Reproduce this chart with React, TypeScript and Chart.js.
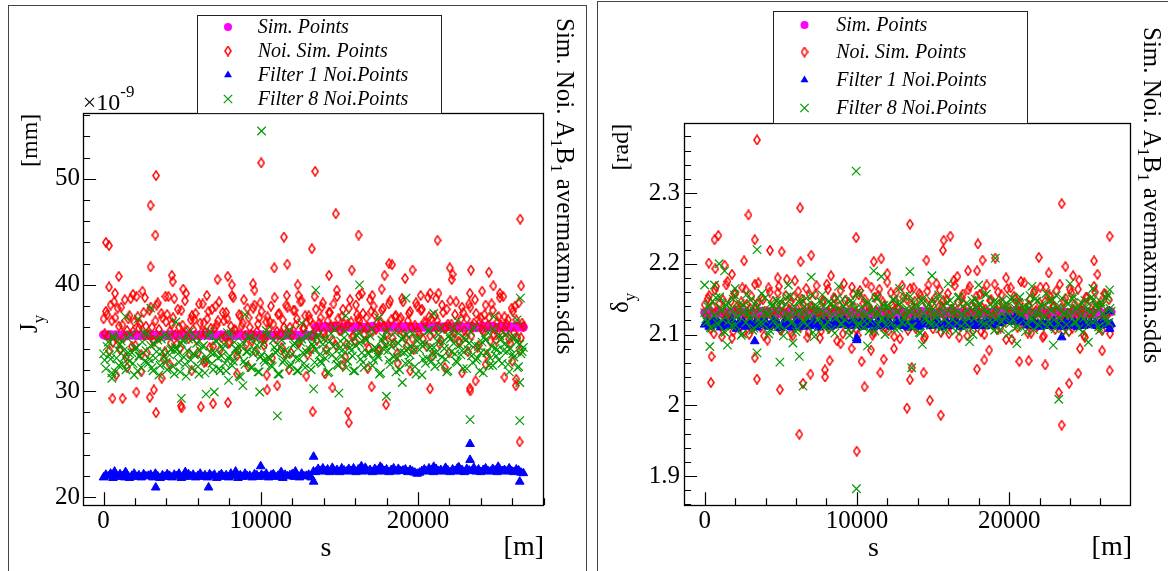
import React, { useEffect, useRef } from "react";
import { Chart, registerables } from "chart.js";
Chart.register(...registerables);

const FONT = '"Liberation Serif", serif';
const C_SIM = "#ff00ff";
const C_NOI = "#ff0000";
const C_F1 = "#0000ff";
const C_F8 = "#009a00";

const LEGEND_LABELS = ["Sim. Points", "Noi. Sim. Points", "Filter 1 Noi.Points", "Filter 8 Noi.Points"];
const TITLE_PARTS = [
  { t: "Sim. Noi. A", sub: false },
  { t: "1", sub: true },
  { t: "B", sub: false },
  { t: "1", sub: true },
  { t: " avermaxmin.sdds", sub: false },
];

const X_TICKS = [0, 2000, 4000, 6000, 8000, 10000, 12000, 14000, 16000, 18000, 20000, 22000, 24000, 26000, 28000];
const X_MAJOR = [0, 10000, 20000];
const JY_TICKS = [20, 22, 24, 26, 28, 30, 32, 34, 36, 38, 40, 42, 44, 46, 48, 50, 52, 54, 56];
const JY_MAJOR = [20, 30, 40, 50];
const DY_TICKS = [1.86, 1.88, 1.9, 1.92, 1.94, 1.96, 1.98, 2, 2.02, 2.04, 2.06, 2.08, 2.1, 2.12, 2.14, 2.16, 2.18, 2.2, 2.22, 2.24, 2.26, 2.28, 2.3, 2.32, 2.34, 2.36, 2.38];
const DY_MAJOR = [1.9, 2, 2.1, 2.2, 2.3];

// s positions [m]
const S_FINE = [
  0,150,300,450,600,750,900,1050,1200,1350,
  1500,1650,1800,1950,2100,2250,2400,2550,2700,2850,
  3000,3150,3300,3450,3600,3750,3900,4050,4200,4350,
  4500,4650,4800,4950,5100,5250,5400,5550,5700,5850,
  6000,6150,6300,6450,6600,6750,6900,7050,7200,7350,
  7500,7650,7800,7950,8100,8250,8400,8550,8700,8850,
  9000,9150,9300,9450,9600,9750,9900,10050,10200,10350,
  10500,10650,10800,10950,11100,11250,11400,11550,11700,11850,
  12000,12150,12300,12450,12600,12750,12900,13050,13200,13350,
  13500,13650,13800,13950,14100,14250,14400,14550,14700,14850,
  15000,15150,15300,15450,15600,15750,15900,16050,16200,16350,
  16500,16650,16800,16950,17100,17250,17400,17550,17700,17850,
  18000,18150,18300,18450,18600,18750,18900,19050,19200,19350,
  19500,19650,19800,19950,20100,20250,20400,20550,20700,20850,
  21000,21150,21300,21450,21600,21750,21900,22050,22200,22350,
  22500,22650,22800,22950,23100,23250,23400,23550,23700,23850,
  24000,24150,24300,24450,24600,24750,24900,25050,25200,25350,
  25500,25650,25800,25950,26100,26250,26400,26550,26700,
];
const S_FINE_B = [
  75,225,375,525,675,825,975,1125,1275,1425,
  1575,1725,1875,2025,2175,2325,2475,2625,2775,2925,
  3075,3225,3375,3525,3675,3825,3975,4125,4275,4425,
  4575,4725,4875,5025,5175,5325,5475,5625,5775,5925,
  6075,6225,6375,6525,6675,6825,6975,7125,7275,7425,
  7575,7725,7875,8025,8175,8325,8475,8625,8775,8925,
  9075,9225,9375,9525,9675,9825,9975,10125,10275,10425,
  10575,10725,10875,11025,11175,11325,11475,11625,11775,11925,
  12075,12225,12375,12525,12675,12825,12975,13125,13275,13425,
  13575,13725,13875,14025,14175,14325,14475,14625,14775,14925,
  15075,15225,15375,15525,15675,15825,15975,16125,16275,16425,
  16575,16725,16875,17025,17175,17325,17475,17625,17775,17925,
  18075,18225,18375,18525,18675,18825,18975,19125,19275,19425,
  19575,19725,19875,20025,20175,20325,20475,20625,20775,20925,
  21075,21225,21375,21525,21675,21825,21975,22125,22275,22425,
  22575,22725,22875,23025,23175,23325,23475,23625,23775,23925,
  24075,24225,24375,24525,24675,24825,24975,25125,25275,25425,
  25575,25725,25875,26025,26175,26325,26475,26625,
];

// ---------- J_y panel (x1e-9 mm) ----------
const JY_SIM = [
  35.30,35.20,35.25,35.30,35.20,35.30,35.25,35.20,35.30,35.25,
  35.20,35.30,35.25,35.30,35.20,35.25,35.30,35.20,35.25,35.30,
  35.20,35.25,35.30,35.25,35.20,35.30,35.25,35.20,35.30,35.25,
  35.30,35.20,35.25,35.30,35.20,35.25,35.30,35.25,35.20,35.30,
  35.25,35.20,35.30,35.25,35.30,35.20,35.25,35.30,35.20,35.25,
  35.30,35.25,35.20,35.30,35.25,35.20,35.30,35.25,35.30,35.20,
  35.25,35.30,35.20,35.25,35.30,35.20,35.25,35.30,35.25,35.20,
  35.30,35.25,35.20,35.30,35.25,35.30,35.20,35.25,35.30,35.25,
  35.20,35.30,35.25,35.20,35.30,35.25,35.30,35.20,35.25,35.30,
  36.00,36.05,35.95,36.00,36.10,36.00,35.95,36.05,36.00,36.10,
  36.05,36.00,35.95,36.10,36.00,36.05,35.95,36.00,36.10,36.05,
  36.00,35.95,36.05,36.00,36.10,36.00,35.95,36.05,36.00,36.10,
  35.95,36.05,36.00,36.10,36.00,35.95,36.05,36.00,36.10,36.00,
  36.05,35.95,36.00,35.95,36.00,36.05,36.00,36.10,35.95,36.05,
  36.00,36.10,36.00,35.95,36.05,36.00,36.10,36.05,36.00,35.95,
  36.10,36.00,36.05,35.95,36.00,36.10,36.05,36.00,35.95,36.05,
  36.00,36.10,35.95,36.05,36.00,36.10,36.00,35.95,36.05,36.00,
  36.10,36.00,35.95,36.05,36.00,36.10,36.00,36.05,36.00,
];
const JY_FILTER1 = [
  21.85,22.10,21.95,22.20,21.80,22.05,21.90,22.15,21.95,21.85,
  22.10,21.80,22.00,22.20,21.90,22.05,21.85,22.15,21.95,22.00,
  22.10,21.85,22.20,21.95,21.80,22.05,21.90,22.15,22.00,21.85,
  22.10,21.95,22.20,21.80,22.05,21.90,22.15,21.95,22.10,21.85,
  22.00,22.20,21.90,22.05,21.85,22.15,21.95,22.10,21.80,22.00,
  22.15,21.90,22.05,21.85,22.20,21.95,22.10,21.80,22.05,21.90,
  22.20,21.95,22.00,21.85,22.15,22.05,21.90,22.10,21.95,22.20,
  21.85,22.05,22.15,21.90,22.00,22.20,21.80,22.10,21.95,22.05,
  22.15,21.90,22.05,21.85,22.20,21.95,22.00,22.10,21.85,22.40,
  22.35,22.65,22.45,22.70,22.40,22.60,22.35,22.75,22.45,22.55,
  22.35,22.70,22.50,22.40,22.65,22.45,22.70,22.35,22.60,22.50,
  22.40,22.75,22.45,22.55,22.35,22.65,22.50,22.40,22.70,22.45,
  22.60,22.35,22.55,22.70,22.40,22.65,22.45,22.50,22.60,22.35,
  22.55,22.40,22.30,22.20,22.30,22.45,22.60,22.40,22.70,22.50,
  22.35,22.65,22.45,22.55,22.40,22.75,22.50,22.35,22.60,22.45,
  22.70,22.40,22.55,22.35,22.65,22.50,22.45,22.75,22.40,22.60,
  22.35,22.55,22.70,22.45,22.40,22.65,22.50,22.35,22.60,22.45,
  22.55,22.40,22.70,22.45,22.35,22.60,22.50,22.30,22.25,
];
const JY_FILTER1_EXTRA = [
  [3320,20.9],[6680,20.9],[9996,22.9],[13360,23.8],[13360,21.45],[23310,25.0],[23310,23.5],[26470,21.45],
  [700,22.4],[1400,22.35],[5200,22.35],[8400,22.4],[11300,22.35],[12200,22.4],[16400,22.9],[17600,22.85],
  [21000,22.85],[22600,22.8],[25100,22.85],
];
const JY_NOI = [
  36.8,37.5,35.2,38.1,34.6,36.9,37.8,33.9,36.2,38.6,
  35.7,37.1,34.2,36.5,38.9,35.9,33.4,37.4,36.1,35.3,
  37.9,34.8,36.6,38.3,35.1,36.9,33.7,37.2,35.6,36.3,
  38.7,34.4,36.0,37.6,35.4,39.2,34.9,36.7,35.8,37.3,
  33.6,36.4,38.2,35.5,36.8,34.1,37.7,35.9,36.2,38.4,
  35.0,36.6,37.4,34.5,36.1,38.8,35.7,33.8,37.0,36.4,
  35.2,37.8,36.0,34.7,38.1,35.6,36.9,37.5,34.3,36.5,
  35.8,38.0,36.3,34.9,37.2,35.4,36.7,33.5,37.9,36.0,
  35.3,37.6,36.8,34.6,38.5,35.9,36.4,37.1,34.0,36.2,
  37.7,35.5,36.9,38.3,35.1,36.6,37.4,34.8,36.1,38.9,
  35.7,37.0,36.3,34.4,37.8,36.5,35.2,38.1,36.8,35.9,
  37.3,34.7,36.0,38.6,35.6,37.2,36.4,33.9,37.6,36.1,
  35.4,38.2,36.7,34.5,37.1,35.8,36.9,38.4,35.0,36.6,
  37.5,34.9,36.2,38.0,35.3,37.7,36.5,34.2,37.0,36.8,
  35.5,38.7,36.1,34.8,37.4,35.9,36.3,38.5,35.1,37.2,
  36.0,34.6,37.9,35.7,36.8,38.2,35.2,36.4,37.3,34.3,
  36.9,35.6,38.1,36.2,34.7,37.6,35.8,36.5,38.8,35.4,
  37.0,36.3,34.9,37.8,35.5,36.7,38.3,35.0,36.1,
];
const JY_NOI_B = [
  35.4,37.2,33.8,36.6,38.4,34.9,36.1,37.9,35.0,33.2,
  36.8,38.7,35.6,34.3,37.0,36.3,39.4,35.2,33.6,37.6,
  36.0,34.7,38.1,35.8,37.3,33.0,36.5,38.9,34.5,36.9,
  35.3,37.7,34.0,36.2,38.5,35.7,33.5,37.1,36.7,34.8,
  38.2,35.5,36.4,32.8,37.5,35.9,34.2,38.0,36.6,33.9,
  37.4,35.1,36.8,34.6,39.0,35.8,33.3,37.2,36.1,38.6,
  34.4,36.9,35.3,37.8,33.7,36.3,38.3,35.0,34.9,37.0,
  36.5,33.1,38.8,35.6,37.3,34.1,36.0,38.1,35.4,33.6,
  37.6,36.2,34.5,38.4,35.9,37.1,33.4,36.7,35.2,38.9,
  34.8,36.4,37.9,35.5,33.9,37.4,36.1,38.2,34.3,36.8,
  35.7,37.7,33.2,36.3,38.6,35.1,34.7,37.2,36.6,39.2,
  35.3,36.9,34.0,37.5,38.0,35.8,33.8,36.5,37.8,34.6,
  36.2,38.5,35.0,37.0,33.5,36.7,38.7,35.4,34.2,37.3,
  36.0,33.9,38.3,35.6,37.6,34.9,36.4,38.8,35.2,33.3,
  37.1,36.6,34.4,38.1,35.9,37.7,33.6,36.3,35.5,38.4,
  34.7,36.8,37.4,35.1,33.7,37.9,36.1,38.6,34.1,36.5,
  35.8,37.2,33.4,36.9,38.2,35.3,34.8,37.0,36.2,38.9,
  35.6,36.7,34.5,37.5,38.0,35.0,33.8,36.4,
];
const JY_NOI_EXTRA = [
  [150,44.0],[350,43.7],[350,39.8],[570,29.3],[730,39.2],[970,40.8],[1210,29.3],[1870,39.1],[2090,29.9],
  [2630,38.8],[2940,29.4],[2990,47.5],[2990,41.7],[3200,30.1],[3300,44.7],[3340,50.3],[3340,27.95],[3700,31.2],
  [3940,38.9],[4340,40.9],[4400,40.3],[4930,28.6],[4960,28.4],[5070,39.6],[6190,28.5],[6570,39.0],[6970,28.8],
  [7250,40.5],[7900,40.8],[7920,28.9],[8160,40.0],[9510,40.1],[9600,39.5],[10030,51.5],[10380,31.5],[10410,30.1],
  [10860,41.6],[11050,30.5],[11470,44.5],[11650,39.0],[11690,41.95],[12350,40.0],[12400,39.0],[13250,43.4],
  [13300,28.05],[13460,50.7],[14090,31.6],[14340,40.9],[14560,30.3],[14770,46.7],[14840,39.5],[15550,28.0],
  [15600,27.0],[15790,41.4],[16220,44.7],[16250,39.0],[17050,30.4],[17090,39.0],[17690,39.6],[17870,40.9],
  [17970,28.7],[18160,42.0],[18350,41.9],[19180,40.6],[19650,41.4],[20170,39.0],[20770,30.2],[20770,39.2],
  [21240,44.2],[21300,39.2],[22020,41.6],[22140,40.5],[22200,41.0],[23300,30.25],[23300,39.2],[23330,30.0],
  [23370,41.4],[23660,30.95],[24080,39.4],[24510,41.2],[24790,39.9],[25210,39.2],[26220,30.5],[26250,31.1],
  [26460,25.2],[26500,46.2],[26560,39.9],
  [800,31.5],[1500,32.2],[2400,31.8],[4200,32.5],[5600,31.9],[6400,32.7],[8500,31.6],[9200,32.3],[11800,32.0],
  [12900,31.4],[15200,32.4],[16800,32.1],[18700,32.6],[19500,31.9],[21700,32.2],[22800,31.7],[24300,32.5],
  [25500,31.3],[26000,32.8],
];
const JY_FILTER8 = [
  33.5,32.1,34.6,33.0,35.2,31.8,33.9,34.4,32.5,33.2,
  35.0,32.8,33.6,31.5,34.1,33.3,32.2,35.5,33.8,32.6,
  34.3,31.9,33.1,34.8,32.4,33.7,35.3,32.0,33.4,34.0,
  31.6,33.9,32.7,34.5,33.2,31.4,34.9,32.9,33.5,35.1,
  32.3,33.8,34.2,31.7,33.0,35.6,32.6,33.6,34.7,32.1,
  33.3,34.4,31.9,33.1,35.4,32.8,34.0,33.5,31.3,34.6,
  32.5,33.7,35.1,32.2,33.9,34.3,31.8,33.4,32.9,35.7,
  33.2,32.4,34.8,33.6,31.6,34.1,32.7,33.8,35.2,32.3,
  33.5,34.5,31.9,33.0,34.9,32.6,33.7,35.4,32.0,34.2,
  33.9,35.3,32.8,34.4,33.1,31.7,34.7,33.4,35.8,32.5,
  34.0,33.3,35.0,32.2,34.6,33.8,31.9,34.3,35.5,33.0,
  32.7,34.9,33.6,35.2,32.4,34.1,33.5,31.6,34.8,33.9,
  35.6,32.9,34.2,33.2,31.8,34.5,33.7,35.1,32.6,34.0,
  33.4,35.4,32.3,34.7,33.9,31.5,34.4,33.1,35.7,32.8,
  34.1,33.6,35.3,32.5,34.6,33.0,31.9,34.9,35.8,33.5,
  32.7,34.3,33.8,35.0,32.1,34.5,33.3,36.0,32.9,34.2,
  33.6,31.7,34.8,35.5,33.1,32.4,34.0,33.9,35.2,32.6,
  34.4,33.7,31.8,35.1,33.2,34.6,32.3,33.5,34.1,
];
const JY_FILTER8_B = [
  32.9,34.2,33.4,31.7,35.0,33.1,32.4,34.7,33.8,32.0,
  33.6,35.3,32.6,34.0,31.9,33.3,34.6,32.8,35.4,33.0,
  32.2,34.4,33.7,31.5,34.9,33.2,32.7,35.1,33.9,32.3,
  34.1,33.5,31.8,34.8,32.5,33.8,35.6,32.1,33.4,34.5,
  31.6,33.0,34.3,32.9,35.2,33.6,32.0,34.7,33.1,31.9,
  34.0,32.6,35.5,33.3,32.4,34.6,33.9,31.4,34.2,32.8,
  33.7,35.0,32.2,33.5,34.9,31.8,33.2,34.4,32.7,35.3,
  33.0,32.3,34.1,33.8,31.6,34.8,32.9,33.4,35.7,32.5,
  34.3,33.1,31.9,34.6,33.6,32.2,35.1,33.9,34.4,32.7,
  35.0,33.4,32.6,34.9,33.7,31.8,35.4,34.2,33.0,32.4,
  34.7,33.9,35.6,32.8,34.1,33.3,31.9,35.2,34.5,33.6,
  32.2,34.8,33.5,35.8,32.9,34.0,33.2,31.7,35.1,34.3,
  33.8,32.5,34.6,35.5,33.1,32.0,34.9,33.6,35.3,32.7,
  34.2,33.9,31.6,35.0,34.4,33.0,32.6,35.7,34.1,33.5,
  32.3,34.7,35.9,33.2,34.0,31.8,35.2,33.7,34.5,32.8,
  35.4,33.4,32.1,34.8,33.9,35.6,32.7,34.3,33.1,31.9,
  34.6,35.1,33.6,32.4,34.2,35.8,33.3,32.9,34.9,33.8,
  35.3,32.5,34.0,33.5,35.0,32.2,34.4,33.7,
];
const JY_FILTER8_EXTRA = [
  [10050,54.5],[13500,39.5],[16280,40.0],[19240,38.75],[26510,38.75],[11060,27.65],[23310,27.3],[26470,27.2],
  [17990,29.5],[9930,29.9],[4950,29.3],[6520,29.7],[7040,29.9],[8860,30.5],[19000,30.8],[13360,30.2],
  [14970,29.8],[26470,30.8],[3010,37.8],[7950,31.0],[530,31.2],
  [1400,37.0],[2200,36.8],[4600,36.5],[9000,37.2],[12600,36.4],[15400,37.1],[17500,36.9],[21000,37.3],
  [22500,36.6],[24800,37.0],[26300,36.7],
];

// ---------- delta_y panel (rad) ----------
const DY_SIM = [
  2.131,2.129,2.132,2.130,2.128,2.131,2.133,2.130,2.129,2.132,
  2.130,2.128,2.131,2.133,2.129,2.130,2.132,2.128,2.131,2.130,
  2.129,2.132,2.130,2.128,2.131,2.133,2.129,2.130,2.132,2.128,
  2.131,2.130,2.129,2.132,2.130,2.128,2.131,2.133,2.129,2.130,
  2.132,2.128,2.131,2.130,2.129,2.132,2.130,2.128,2.131,2.133,
  2.129,2.130,2.132,2.128,2.131,2.130,2.129,2.132,2.130,2.128,
  2.131,2.133,2.129,2.130,2.132,2.128,2.131,2.130,2.129,2.132,
  2.130,2.129,2.132,2.130,2.128,2.131,2.133,2.130,2.129,2.132,
  2.130,2.128,2.131,2.133,2.129,2.130,2.132,2.128,2.131,2.130,
  2.129,2.132,2.130,2.128,2.131,2.133,2.129,2.130,2.132,2.128,
  2.131,2.130,2.129,2.132,2.130,2.128,2.131,2.133,2.129,2.130,
  2.132,2.128,2.131,2.130,2.129,2.132,2.130,2.128,2.131,2.133,
  2.129,2.130,2.132,2.128,2.131,2.130,2.129,2.132,2.130,2.128,
  2.131,2.133,2.134,2.132,2.133,2.131,2.134,2.132,2.133,2.131,
  2.130,2.129,2.132,2.130,2.128,2.131,2.133,2.130,2.129,2.132,
  2.130,2.128,2.131,2.133,2.129,2.130,2.132,2.128,2.131,2.130,
  2.129,2.132,2.130,2.128,2.131,2.133,2.129,2.130,2.132,2.128,
  2.131,2.130,2.129,2.132,2.130,2.128,2.131,2.133,2.132,
];
const DY_FILTER1 = [
  2.114,2.118,2.111,2.116,2.120,2.113,2.117,2.110,2.115,2.119,
  2.112,2.116,2.121,2.114,2.108,2.117,2.113,2.118,2.111,2.115,
  2.119,2.112,2.116,2.110,2.114,2.118,2.113,2.117,2.111,2.115,
  2.120,2.113,2.116,2.109,2.114,2.118,2.112,2.116,2.110,2.115,
  2.119,2.113,2.117,2.111,2.115,2.118,2.112,2.116,2.120,2.114,
  2.110,2.117,2.113,2.118,2.115,2.111,2.116,2.119,2.113,2.117,
  2.114,2.120,2.116,2.112,2.118,2.115,2.119,2.113,2.117,2.111,
  2.116,2.119,2.113,2.117,2.110,2.115,2.118,2.112,2.116,2.120,
  2.113,2.117,2.111,2.115,2.119,2.114,2.118,2.112,2.116,2.110,
  2.115,2.119,2.113,2.117,2.111,2.116,2.120,2.114,2.118,2.112,
  2.117,2.113,2.119,2.115,2.111,2.116,2.118,2.112,2.117,2.114,
  2.120,2.115,2.111,2.118,2.114,2.117,2.113,2.119,2.115,2.112,
  2.118,2.114,2.116,2.112,2.119,2.115,2.117,2.113,2.118,2.116,
  2.121,2.119,2.123,2.120,2.122,2.118,2.124,2.121,2.119,2.122,
  2.117,2.113,2.116,2.112,2.118,2.114,2.115,2.111,2.116,2.113,
  2.117,2.112,2.115,2.119,2.113,2.116,2.111,2.114,2.118,2.112,
  2.116,2.113,2.117,2.111,2.115,2.118,2.112,2.116,2.114,2.117,
  2.113,2.116,2.112,2.115,2.118,2.113,2.116,2.114,2.115,
];
const DY_FILTER1_EXTRA = [[3290,2.0905],[9993,2.092],[9993,2.095],[23450,2.096],[26600,2.133],[26600,2.108]];
const DY_NOI = [
  2.142,2.118,2.155,2.127,2.101,2.168,2.134,2.112,2.149,2.123,
  2.175,2.131,2.095,2.158,2.139,2.116,2.146,2.104,2.163,2.128,
  2.137,2.109,2.171,2.144,2.121,2.152,2.098,2.133,2.166,2.114,
  2.147,2.126,2.159,2.107,2.141,2.119,2.178,2.135,2.102,2.153,
  2.124,2.161,2.111,2.143,2.129,2.096,2.156,2.138,2.117,2.169,
  2.132,2.105,2.148,2.122,2.164,2.136,2.113,2.151,2.091,2.140,
  2.127,2.172,2.118,2.145,2.108,2.157,2.131,2.099,2.162,2.125,
  2.150,2.115,2.139,2.167,2.103,2.134,2.155,2.120,2.146,2.110,
  2.174,2.128,2.142,2.097,2.160,2.137,2.116,2.153,2.124,2.106,
  2.165,2.133,2.147,2.112,2.158,2.121,2.094,2.144,2.170,2.130,
  2.108,2.152,2.126,2.163,2.139,2.117,2.149,2.101,2.135,2.176,
  2.123,2.145,2.111,2.157,2.132,2.098,2.168,2.140,2.119,2.154,
  2.129,2.104,2.161,2.136,2.114,2.148,2.125,2.171,2.107,2.143,
  2.156,2.120,2.093,2.138,2.166,2.127,2.150,2.110,2.144,2.131,
  2.173,2.115,2.141,2.102,2.159,2.134,2.122,2.167,2.096,2.146,
  2.128,2.155,2.113,2.140,2.162,2.118,2.137,2.105,2.151,2.130,
  2.164,2.109,2.143,2.124,2.177,2.135,2.099,2.153,2.120,2.147,
  2.132,2.160,2.116,2.141,2.106,2.158,2.126,2.149,2.112,
];
const DY_NOI_B = [
  2.126,2.151,2.108,2.139,2.163,2.117,2.144,2.097,2.132,2.170,
  2.121,2.147,2.104,2.158,2.135,2.112,2.166,2.128,2.143,2.100,
  2.154,2.119,2.137,2.173,2.110,2.149,2.125,2.092,2.160,2.134,
  2.115,2.142,2.168,2.106,2.130,2.155,2.122,2.145,2.098,2.176,
  2.136,2.113,2.150,2.127,2.165,2.103,2.140,2.119,2.157,2.131,
  2.095,2.146,2.124,2.171,2.109,2.138,2.152,2.116,2.133,2.162,
  2.101,2.148,2.129,2.114,2.167,2.139,2.107,2.156,2.123,2.144,
  2.174,2.118,2.135,2.099,2.153,2.127,2.164,2.111,2.141,2.132,
  2.105,2.159,2.120,2.147,2.137,2.094,2.169,2.126,2.150,2.113,
  2.142,2.166,2.108,2.134,2.155,2.121,2.097,2.161,2.130,2.145,
  2.117,2.172,2.139,2.103,2.148,2.125,2.158,2.112,2.136,2.169,
  2.128,2.096,2.152,2.143,2.115,2.163,2.131,2.106,2.146,2.122,
  2.157,2.138,2.100,2.170,2.127,2.149,2.114,2.134,2.160,2.109,
  2.144,2.119,2.165,2.133,2.093,2.154,2.126,2.141,2.175,2.116,
  2.137,2.102,2.150,2.129,2.162,2.111,2.145,2.135,2.098,2.167,
  2.123,2.153,2.140,2.107,2.132,2.171,2.118,2.147,2.125,2.104,
  2.159,2.136,2.114,2.164,2.128,2.143,2.096,2.152,2.131,2.120,
  2.168,2.139,2.110,2.146,2.124,2.157,2.133,2.101,
];
const DY_NOI_EXTRA = [
  [3440,2.375],[2880,2.269],[3290,2.234],[650,2.234],[900,2.240],[270,2.201],[700,2.193],[1310,2.198],
  [2590,2.204],[4290,2.219],[5060,2.217],[6270,2.279],[6300,2.203],[7000,2.212],[9950,2.237],[11110,2.203],
  [11600,2.207],[13480,2.256],[14570,2.205],[15700,2.233],[16140,2.239],[15650,2.219],[17950,2.228],
  [18250,2.205],[17300,2.19],[17900,2.19],[19090,2.208],[21950,2.209],[23450,2.285],[23700,2.196],
  [25580,2.204],[26600,2.239],
  [410,2.032],[450,2.069],[3440,2.037],[3290,2.067],[4940,2.022],[6220,1.959],[6460,2.031],[6950,2.044],
  [7910,2.040],[7900,2.050],[8210,2.063],[8930,2.087],[9650,2.080],[9990,1.935],[10310,2.062],[10500,2.026],
  [10930,2.078],[11540,2.046],[11760,2.065],[12440,2.080],[13290,1.996],[13480,2.036],[13600,2.053],
  [14380,2.046],[14790,2.007],[15510,1.986],[17890,2.051],[18370,2.064],[18690,2.078],[20670,2.062],
  [21280,2.063],[22370,2.057],[23260,2.018],[23450,1.972],[23940,2.031],[24540,2.045],[24650,2.080],
  [26110,2.077],[26600,2.049],
  [1800,2.185],[4800,2.18],[8300,2.183],[12000,2.186],[16600,2.182],[19800,2.18],[22600,2.187],[24200,2.183],
  [25800,2.185],
];
const DY_FILTER8 = [
  2.131,2.118,2.142,2.109,2.126,2.152,2.114,2.137,2.121,2.103,
  2.145,2.128,2.112,2.156,2.124,2.135,2.099,2.141,2.117,2.130,
  2.149,2.106,2.127,2.138,2.115,2.158,2.122,2.133,2.101,2.144,
  2.119,2.136,2.111,2.147,2.125,2.108,2.153,2.129,2.116,2.140,
  2.104,2.132,2.150,2.120,2.139,2.113,2.127,2.155,2.097,2.134,
  2.123,2.146,2.110,2.137,2.118,2.143,2.128,2.102,2.151,2.126,
  2.115,2.140,2.131,2.107,2.148,2.121,2.136,2.112,2.157,2.129,
  2.119,2.144,2.105,2.133,2.125,2.152,2.114,2.138,2.122,2.100,
  2.141,2.127,2.116,2.149,2.132,2.109,2.145,2.124,2.135,2.118,
  2.154,2.111,2.139,2.126,2.103,2.147,2.130,2.120,2.142,2.113,
  2.136,2.124,2.150,2.108,2.133,2.121,2.145,2.116,2.138,2.129,
  2.105,2.152,2.127,2.140,2.117,2.134,2.110,2.148,2.123,2.137,
  2.143,2.128,2.114,2.156,2.131,2.120,2.139,2.106,2.146,2.125,
  2.118,2.141,2.133,2.101,2.149,2.122,2.137,2.112,2.153,2.128,
  2.135,2.115,2.144,2.124,2.107,2.151,2.130,2.119,2.140,2.126,
  2.111,2.147,2.134,2.121,2.155,2.116,2.138,2.129,2.104,2.143,
  2.127,2.150,2.118,2.136,2.109,2.145,2.123,2.139,2.114,2.132,
  2.148,2.120,2.137,2.106,2.141,2.125,2.152,2.117,2.133,
];
const DY_FILTER8_B = [
  2.122,2.139,2.110,2.147,2.128,2.116,2.153,2.133,2.104,2.141,
  2.119,2.136,2.150,2.113,2.127,2.144,2.101,2.132,2.157,2.124,
  2.137,2.109,2.146,2.121,2.134,2.115,2.152,2.129,2.106,2.140,
  2.126,2.148,2.114,2.135,2.098,2.143,2.123,2.155,2.118,2.131,
  2.108,2.145,2.130,2.117,2.151,2.125,2.138,2.103,2.142,2.120,
  2.134,2.156,2.112,2.129,2.147,2.107,2.140,2.124,2.136,2.115,
  2.150,2.121,2.133,2.099,2.144,2.127,2.158,2.116,2.138,2.110,
  2.128,2.146,2.119,2.135,2.105,2.152,2.130,2.122,2.141,2.113,
  2.137,2.125,2.149,2.108,2.132,2.143,2.117,2.154,2.126,2.134,
  2.111,2.145,2.128,2.139,2.102,2.151,2.123,2.136,2.118,2.147,
  2.130,2.114,2.156,2.127,2.140,2.106,2.133,2.148,2.121,2.137,
  2.116,2.153,2.129,2.109,2.144,2.124,2.138,2.100,2.150,2.131,
  2.143,2.119,2.135,2.157,2.112,2.128,2.146,2.122,2.134,2.107,
  2.149,2.126,2.140,2.115,2.152,2.133,2.110,2.145,2.127,2.139,
  2.104,2.136,2.155,2.120,2.131,2.147,2.113,2.142,2.125,2.158,
  2.118,2.134,2.149,2.108,2.138,2.123,2.151,2.129,2.114,2.144,
  2.132,2.154,2.117,2.140,2.126,2.103,2.148,2.135,2.121,2.153,
  2.128,2.141,2.111,2.146,2.130,2.119,2.156,2.137,
];
const DY_FILTER8_EXTRA = [
  [9950,2.331],[3440,2.220],[950,2.20],[1310,2.19],[0,2.17],[650,2.17],[7000,2.181],[11110,2.19],[11600,2.182],
  [13480,2.189],[14930,2.183],[19090,2.208],[23260,2.0085],[9970,1.882],[6460,2.027],[3440,2.074],[4940,2.061],
  [6220,2.069],[340,2.083],[13600,2.053],[26600,2.163],
  [2000,2.165],[5500,2.17],[8800,2.168],[12800,2.165],[16000,2.172],[18000,2.17],[21500,2.168],[24000,2.172],
  [25500,2.165],[1500,2.085],[5800,2.088],[10700,2.084],[14300,2.086],[17400,2.09],[20500,2.087],[22900,2.085],
  [25200,2.089],
];

type Pt = { x: number; y: number };
const onGrid = (s: number[], v: number[]): Pt[] =>
  v.map((y, i) => ({ x: s[i], y })).filter((p) => p.x !== undefined);
const pairs = (p: number[][]): Pt[] => p.map(([x, y]) => ({ x, y }));

const PANELS = [
  {
    key: "jy",
    left: 0,
    width: 590,
    area: { l: 83.4, t: 113, r: 543.8, b: 505 },
    xMin: -1280, xMax: 28000, yMin: 19.25, yMax: 56.2,
    yTicks: JY_TICKS, yMajor: JY_MAJOR, yPad: 3.4,
    frame: { x: 8.5, y: 5.5 },
    legend: { x1: 197.4, y1: 15, x2: 441.3, y2: 113, mx: 228, tx: 257.7, rows: [27, 51, 75, 99] },
    title: { x: 557, y: 18 },
    unit: { text: "[mm]", x: 37.4, y: 140 },
    varName: { main: "J", sub: "y", x: 37.4, y: 333 },
    mult: true,
    sLabel: { x: 326, y: 556 },
    mLabel: { x: 544, y: 555 },
    sim: onGrid(S_FINE, JY_SIM),
    noi: onGrid(S_FINE, JY_NOI).concat(onGrid(S_FINE_B, JY_NOI_B), pairs(JY_NOI_EXTRA)),
    f1: onGrid(S_FINE, JY_FILTER1).concat(pairs(JY_FILTER1_EXTRA)),
    f8: onGrid(S_FINE, JY_FILTER8).concat(onGrid(S_FINE_B, JY_FILTER8_B), pairs(JY_FILTER8_EXTRA)),
  },
  {
    key: "dy",
    left: 590,
    width: 578,
    area: { l: 94.4, t: 122.7, r: 540.7, b: 505 },
    xMin: -1330, xMax: 27984, yMin: 1.859, yMax: 2.3994,
    yTicks: DY_TICKS, yMajor: DY_MAJOR, yPad: 4.4,
    frame: { x: 7.5, y: 1.5 },
    legend: { x1: 183.2, y1: 11, x2: 436.8, y2: 123, mx: 214.5, tx: 246.2, rows: [25, 52, 80, 108] },
    title: { x: 554, y: 27 },
    unit: { text: "[rad]", x: 37.7, y: 143.5 },
    varName: { main: "\u03b4", sub: "y", x: 37.7, y: 313 },
    mult: false,
    sLabel: { x: 283.5, y: 556 },
    mLabel: { x: 542, y: 555 },
    sim: onGrid(S_FINE, DY_SIM),
    noi: onGrid(S_FINE, DY_NOI).concat(onGrid(S_FINE_B, DY_NOI_B), pairs(DY_NOI_EXTRA)),
    f1: onGrid(S_FINE, DY_FILTER1).concat(pairs(DY_FILTER1_EXTRA)),
    f8: onGrid(S_FINE, DY_FILTER8).concat(onGrid(S_FINE_B, DY_FILTER8_B), pairs(DY_FILTER8_EXTRA)),
  },
];

function makeDiamond(): HTMLCanvasElement {
  const c = document.createElement("canvas");
  c.width = 8;
  c.height = 11;
  const g = c.getContext("2d")!;
  g.strokeStyle = C_NOI;
  g.lineWidth = 1.5;
  g.beginPath();
  g.moveTo(4, 0.9);
  g.lineTo(7.1, 5.5);
  g.lineTo(4, 10.1);
  g.lineTo(0.9, 5.5);
  g.closePath();
  g.stroke();
  return c;
}

const isMajor = (v: number, majors: number[]) => majors.some((m) => Math.abs(m - v) < 1e-9);

function drawMarker(ctx: CanvasRenderingContext2D, kind: number, x: number, y: number, diamond: HTMLCanvasElement) {
  ctx.save();
  if (kind === 0) {
    ctx.fillStyle = C_SIM;
    ctx.beginPath();
    ctx.arc(x, y, 4, 0, Math.PI * 2);
    ctx.fill();
  } else if (kind === 1) {
    ctx.drawImage(diamond, x - diamond.width / 2, y - diamond.height / 2);
  } else if (kind === 2) {
    const r = 4.6;
    ctx.fillStyle = C_F1;
    ctx.beginPath();
    ctx.moveTo(x, y - r);
    ctx.lineTo(x + 0.866 * r, y + 0.5 * r);
    ctx.lineTo(x - 0.866 * r, y + 0.5 * r);
    ctx.closePath();
    ctx.fill();
  } else {
    const d = 4.2;
    ctx.strokeStyle = C_F8;
    ctx.lineWidth = 1.2;
    ctx.beginPath();
    ctx.moveTo(x - d, y - d);
    ctx.lineTo(x + d, y + d);
    ctx.moveTo(x - d, y + d);
    ctx.lineTo(x + d, y - d);
    ctx.stroke();
  }
  ctx.restore();
}

function drawRich(ctx: CanvasRenderingContext2D, parts: { t: string; sub: boolean }[], x: number, y: number, angle: number, size: number, subSize: number, subShift: number) {
  ctx.save();
  ctx.translate(x, y);
  ctx.rotate(angle);
  ctx.fillStyle = "#000";
  ctx.textAlign = "left";
  ctx.textBaseline = "alphabetic";
  let cx = 0;
  for (const p of parts) {
    ctx.font = `${p.sub ? subSize : size}px ${FONT}`;
    ctx.fillText(p.t, cx, p.sub ? subShift : 0);
    cx += ctx.measureText(p.t).width;
  }
  ctx.restore();
}

function makePlugin(p: any, diamond: HTMLCanvasElement) {
  return {
    id: "decor_" + p.key,
    beforeDraw(chart: any) {
      const ctx = chart.ctx as CanvasRenderingContext2D;
      ctx.save();
      ctx.fillStyle = "#fff";
      ctx.fillRect(0, 0, chart.width, chart.height);
      ctx.restore();
    },
    afterDraw(chart: any) {
      const ctx = chart.ctx as CanvasRenderingContext2D;
      const xs = chart.scales.x;
      const ys = chart.scales.y;
      const a = chart.chartArea;
      ctx.save();
      ctx.strokeStyle = "#000";
      ctx.lineWidth = 1.2;
      ctx.beginPath();
      for (const v of p.yTicks) {
        if (v < p.yMin || v > p.yMax) continue;
        const py = Math.round(ys.getPixelForValue(v)) + 0.5;
        const len = isMajor(v, p.yMajor) ? 12.7 : 6.7;
        ctx.moveTo(a.left, py);
        ctx.lineTo(a.left + len, py);
      }
      for (const v of X_TICKS) {
        if (v < p.xMin || v > p.xMax) continue;
        const px = Math.round(xs.getPixelForValue(v)) + 0.5;
        const len = isMajor(v, X_MAJOR) ? 12.7 : 6.7;
        ctx.moveTo(px, a.bottom);
        ctx.lineTo(px, a.bottom - len);
      }
      ctx.stroke();
      ctx.lineWidth = 1.3;
      ctx.strokeRect(Math.round(a.left) + 0.5, Math.round(a.top) + 0.5, Math.round(a.right - a.left), Math.round(a.bottom - a.top));
      const L = p.legend;
      ctx.fillStyle = "#fff";
      ctx.fillRect(L.x1, L.y1, L.x2 - L.x1, L.y2 - L.y1);
      ctx.strokeStyle = "#222";
      ctx.lineWidth = 1;
      ctx.strokeRect(Math.round(L.x1) + 0.5, Math.round(L.y1) + 0.5, Math.round(L.x2 - L.x1), Math.round(L.y2 - L.y1));
      ctx.textAlign = "left";
      ctx.textBaseline = "middle";
      LEGEND_LABELS.forEach((lab, i) => {
        drawMarker(ctx, i, L.mx, L.rows[i], diamond);
        ctx.fillStyle = "#000";
        ctx.font = `italic 20px ${FONT}`;
        ctx.fillText(lab, L.tx, L.rows[i] + 1);
      });
      ctx.strokeStyle = "#444";
      ctx.lineWidth = 1;
      ctx.strokeRect(p.frame.x, p.frame.y, p.key === "jy" ? 586 - p.frame.x + 0.5 : 800, 800);
      drawRich(ctx, TITLE_PARTS, p.title.x, p.title.y, Math.PI / 2, 25, 17, 6);
      drawRich(ctx, [{ t: p.unit.text, sub: false }], p.unit.x, p.unit.y + 27, -Math.PI / 2, 24, 17, 6);
      drawRich(ctx, [{ t: p.varName.main, sub: false }, { t: p.varName.sub, sub: true }], p.varName.x, p.varName.y, -Math.PI / 2, 25, 17, 7);
      if (p.mult) {
        ctx.fillStyle = "#000";
        ctx.textAlign = "left";
        ctx.textBaseline = "alphabetic";
        ctx.font = `24px ${FONT}`;
        ctx.fillText("\u00d710", 82.7, 110);
        const w = ctx.measureText("\u00d710").width;
        ctx.font = `17px ${FONT}`;
        ctx.fillText("-9", 82.7 + w, 97);
      }
      ctx.fillStyle = "#000";
      ctx.textBaseline = "alphabetic";
      ctx.font = `28px ${FONT}`;
      ctx.textAlign = "center";
      ctx.fillText("s", p.sLabel.x, p.sLabel.y);
      ctx.textAlign = "right";
      ctx.fillText("[m]", p.mLabel.x, p.mLabel.y);
      ctx.restore();
    },
  };
}

function Panel({ p }: { p: any }) {
  const ref = useRef<HTMLCanvasElement | null>(null);
  useEffect(() => {
    if (!ref.current) return;
    const diamond = makeDiamond();
    const H = 571;
    const chart = new Chart(ref.current, {
      type: "scatter",
      data: {
        datasets: [
          { label: LEGEND_LABELS[0], data: p.sim, pointStyle: "circle", pointRadius: 4.5, backgroundColor: C_SIM, borderColor: C_SIM, borderWidth: 0, order: 4 },
          { label: LEGEND_LABELS[1], data: p.noi, pointStyle: diamond, pointRadius: 5, backgroundColor: C_NOI, borderColor: C_NOI, order: 3 },
          { label: LEGEND_LABELS[2], data: p.f1, pointStyle: "triangle", pointRadius: 5, backgroundColor: C_F1, borderColor: C_F1, borderWidth: 1, order: 2 },
          { label: LEGEND_LABELS[3], data: p.f8, pointStyle: "crossRot", pointRadius: 6, backgroundColor: C_F8, borderColor: C_F8, borderWidth: 1.2, order: 1 },
        ],
      } as any,
      options: {
        animation: false,
        responsive: false,
        devicePixelRatio: 1,
        events: [],
        layout: { padding: { left: 0, top: p.area.t, right: p.width - p.area.r, bottom: 0 } },
        plugins: { legend: { display: false }, tooltip: { enabled: false }, title: { display: false } },
        scales: {
          x: {
            type: "linear",
            min: p.xMin,
            max: p.xMax,
            afterFit: (s: any) => { s.height = H - p.area.b; },
            afterBuildTicks: (s: any) => { s.ticks = X_TICKS.filter((v) => v >= p.xMin && v <= p.xMax).map((v) => ({ value: v })); },
            ticks: {
              autoSkip: false,
              maxRotation: 0,
              minRotation: 0,
              padding: 1,
              color: "#000",
              font: { family: FONT, size: 25 },
              callback: (v: any) => (isMajor(Number(v), X_MAJOR) ? String(v) : ""),
            },
            grid: { display: false, drawTicks: false },
            border: { display: false },
          },
          y: {
            type: "linear",
            min: p.yMin,
            max: p.yMax,
            afterFit: (s: any) => { s.width = p.area.l; },
            afterBuildTicks: (s: any) => { s.ticks = p.yTicks.filter((v: number) => v >= p.yMin && v <= p.yMax).map((v: number) => ({ value: v })); },
            ticks: {
              autoSkip: false,
              padding: p.yPad,
              color: "#000",
              font: { family: FONT, size: 25 },
              callback: (v: any) => (isMajor(Number(v), p.yMajor) ? String(Number(v)) : ""),
            },
            grid: { display: false, drawTicks: false },
            border: { display: false },
          },
        },
      } as any,
      plugins: [makePlugin(p, diamond)],
    });
    return () => chart.destroy();
  }, [p]);
  return (
    <canvas
      ref={ref}
      width={p.width}
      height={571}
      style={{ position: "absolute", left: p.left, top: 0, width: p.width, height: 571, display: "block" }}
    />
  );
}

export default function App() {
  return (
    <div style={{ position: "absolute", left: 0, top: 0, width: 1168, height: 571, background: "#fff", overflow: "hidden" }}>
      {PANELS.map((p) => (
        <Panel key={p.key} p={p} />
      ))}
    </div>
  );
}
